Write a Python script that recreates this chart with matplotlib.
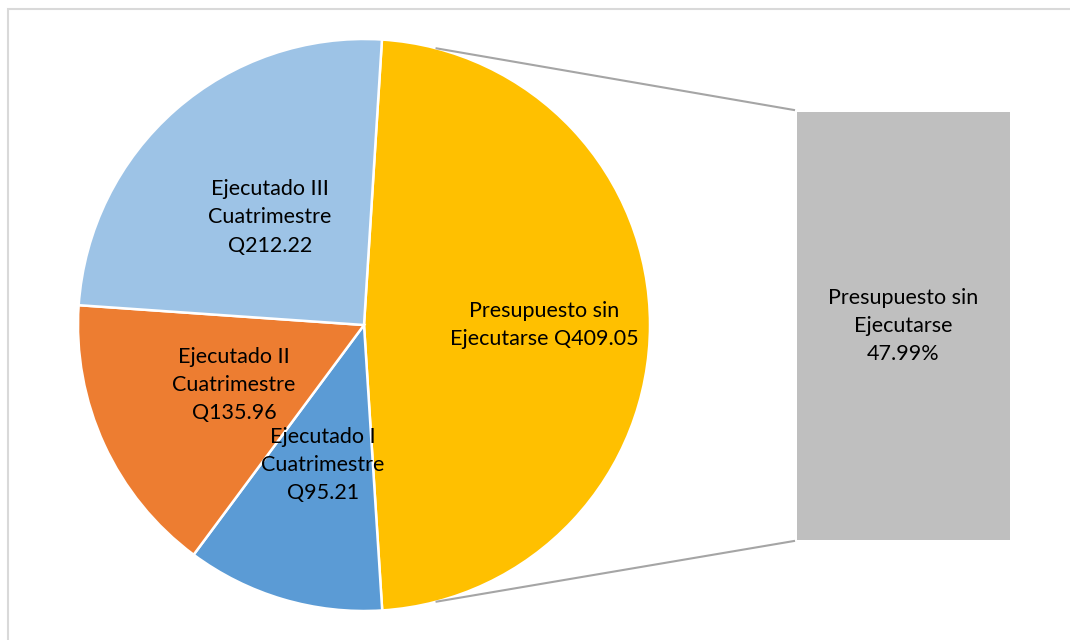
import numpy as np
import matplotlib
matplotlib.use("Agg")
import matplotlib.pyplot as plt
from matplotlib.patches import Rectangle

# ---- data ----
categories = ["Presupuesto sin Ejecutarse", "Ejecutado I Cuatrimestre",
              "Ejecutado II Cuatrimestre", "Ejecutado III Cuatrimestre"]
values = [409.05, 95.21, 135.96, 212.22]
pie_labels = ["Presupuesto sin\nEjecutarse Q409.05",
              "Ejecutado I\nCuatrimestre\nQ95.21",
              "Ejecutado II\nCuatrimestre\nQ135.96",
              "Ejecutado III\nCuatrimestre\nQ212.22"]
colors = ["#FFC000", "#5B9BD5", "#ED7D31", "#9DC3E6"]
bar_label = "Presupuesto sin\nEjecutarse\n47.99%"

plt.rcParams['font.family'] = ['Lato', 'DejaVu Sans']

W, H = 1070, 640
fig = plt.figure(figsize=(W / 100, H / 100), dpi=100)
ax = fig.add_axes([0, 0, 1, 1])
ax.set_xlim(0, W)
ax.set_ylim(0, H)
ax.set_aspect('equal')
ax.axis('off')

cx, cy, r = 364, H - 325, 286
wedges, _ = ax.pie(values, colors=colors, startangle=86.4, counterclock=False,
                   center=(cx, cy), radius=r, frame=True,
                   wedgeprops=dict(edgecolor='white', linewidth=1.8))
ax.set_xlim(0, W)
ax.set_ylim(0, H)
ax.axis('off')

FS = 15.5
LS = 1.52
label_dist = [0.63, 0.51, 0.5, 0.5]
for w, lab, f in zip(wedges, pie_labels, label_dist):
    mid = np.deg2rad((w.theta1 + w.theta2) / 2)
    ax.text(cx + f * r * np.cos(mid), cy + f * r * np.sin(mid), lab,
            ha='center', va='center', fontsize=FS, linespacing=LS, color='black')

# bar (only the unexecuted share)
share = values[0] / sum(values)
bx0, bx1, by0, by1 = 797, 1010, H - 540, H - 112
ax.bar((bx0 + bx1) / 2, (by1 - by0) * share / share, width=bx1 - bx0, bottom=by0,
       color="#BFBFBF", edgecolor='none')
ax.text((bx0 + bx1) / 2, (by0 + by1) / 2, bar_label, ha='center', va='center',
        fontsize=FS, linespacing=LS, color='black')

# connector lines
a = np.deg2rad(75.3)
ax.plot([cx + r * np.cos(a), bx0 - 3], [cy + r * np.sin(a), by1 + 2],
        color="#A5A5A5", lw=1.5)
ax.plot([cx + r * np.cos(-a), bx0 - 3], [cy + r * np.sin(-a), by0 - 1],
        color="#A5A5A5", lw=1.5)

# chart border
ax.add_patch(Rectangle((8, -20), W + 20, H - 9 + 20, fill=False,
                       edgecolor="#D9D9D9", lw=1.5, clip_on=False))

fig.savefig("out.png", dpi=100)
